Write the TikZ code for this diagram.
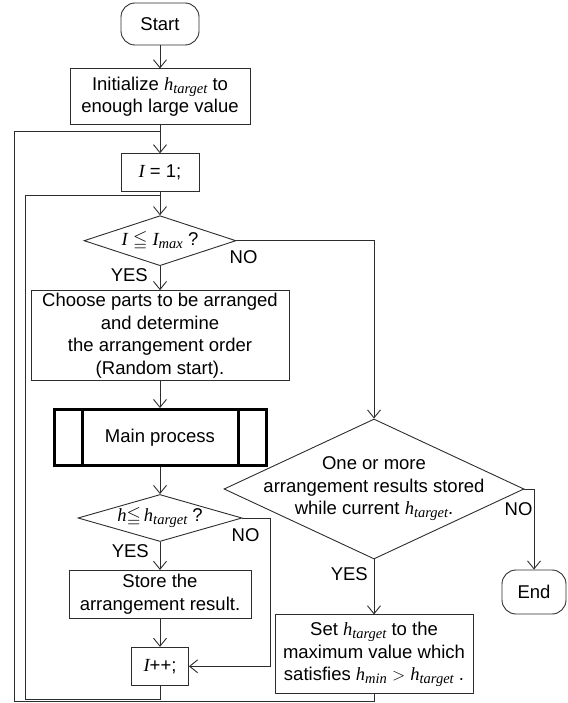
\documentclass[tikz,border=0pt]{standalone}
\usepackage{amsmath,amssymb}
\usepackage{fontspec}
\setmainfont{Liberation Sans}
\newfontfamily\varfont{Liberation Serif}
\newcommand{\var}[1]{{\varfont\itshape #1}}
\newcommand{\varsub}[2]{{\varfont\itshape #1\raisebox{-0.35ex}{\fontsize{14.5}{14.5}\selectfont #2}}}
\usetikzlibrary{arrows.meta,positioning,shapes.geometric,calc}
\definecolor{linegray}{RGB}{45,45,45}

\begin{document}
\begin{tikzpicture}[x=1pt, y=-1pt,
    font=\fontsize{18.5}{22.5}\selectfont,
    terminal/.style={draw=linegray, line width=0.9pt, rounded corners=14pt, minimum width=78pt, minimum height=42pt, inner sep=0pt},
    process/.style={draw=linegray, line width=0.9pt, align=center, inner sep=0pt},
    subproc/.style={draw=black, line width=3pt, minimum width=212pt, minimum height=56pt, inner sep=0pt,
        path picture={\draw[line width=3pt] ([xshift=28pt]path picture bounding box.north west) -- ([xshift=28pt]path picture bounding box.south west)
            ([xshift=-28pt]path picture bounding box.north east) -- ([xshift=-28pt]path picture bounding box.south east);}},
    decision/.style={draw=linegray, line width=0.9pt, diamond, inner sep=0pt},
    tag/.style={inner sep=0pt},
    arrow/.style={draw=linegray, line width=0.9pt, -{Straight Barb[length=8pt,width=13pt]}},
    backline/.style={draw=linegray, line width=0.9pt}
]
\useasboundingbox (0,0) rectangle (567,703);

\node[terminal] (start) at (160,24) {Start};
\node[process, minimum width=180pt, minimum height=56pt, below=23pt of start] (init) {Initialize \varsub{h}{target} to\\enough large value};
\node[process, minimum width=78pt, minimum height=38pt, below=28pt of init] (one) {\var{I} = 1;};
\node[decision, minimum width=152pt, minimum height=50pt, below=23pt of one, label={center:\var{I} $\leqq$ \varsub{I}{max} ?}] (cond1) {};
\node[process, minimum width=258pt, minimum height=90pt, below=24pt of cond1] (choose) {Choose parts to be arranged\\and determine\\the arrangement order\\(Random start).};
\node[subproc, below=27pt of choose] (main) {Main process};
\node[decision, minimum width=164pt, minimum height=47pt, below=27pt of main, label={center:\var{h}$\leqq$\,\varsub{h}{target} ?}] (cond2) {};
\node[process, minimum width=182pt, minimum height=48pt, below=28pt of cond2] (store) {Store the\\arrangement result.};
\node[process, minimum width=57pt, minimum height=38pt, below=28pt of store] (inc) {\var{I}++;};

\node[decision, minimum width=300pt, minimum height=140pt, label={[align=center]center:One or more\\arrangement results stored\\while current \varsub{h}{target}.}] (cond3) at (374,489) {};
\node[process, minimum width=198pt, minimum height=79pt, below=55pt of cond3] (set) {Set \varsub{h}{target} to the\\maximum value which\\satisfies \varsub{h}{min} $>$ \varsub{h}{target} .};
\node[terminal, minimum width=64pt, minimum height=44pt] (finish) at (534,592) {End};

\node[tag, anchor=north west] (no1) at ([xshift=-7pt,yshift=-10pt]cond1.east) {NO};
\node[tag, anchor=north east] (yes1) at ([xshift=-12pt,yshift=-2pt]cond1.south) {YES};
\node[tag, anchor=north west] (no2) at ([xshift=-11pt,yshift=-10pt]cond2.east) {NO};
\node[tag, anchor=north east] (yes2) at ([xshift=-11pt,yshift=-2pt]cond2.south) {YES};
\node[tag, anchor=north west] (no3) at ([xshift=-20pt,yshift=-13pt]cond3.east) {NO};
\node[tag, anchor=north east] (yes3) at ([xshift=-6pt,yshift=-8pt]cond3.south) {YES};

\coordinate (outerjoin) at ([yshift=-6pt]init.south);
\coordinate (innerjoin) at ([yshift=-3pt]one.south);

\draw[arrow] (start) -- (init);
\draw[arrow] (init) -- (one);
\draw[arrow] (one) -- (cond1);
\draw[arrow] (cond1) -- (choose);
\draw[arrow] (choose) -- (main);
\draw[arrow] (main) -- (cond2);
\draw[arrow] (cond2) -- (store);
\draw[arrow] (store) -- (inc);
\draw[arrow] (cond1.east) -| (cond3.north);
\draw[arrow] (cond2.east) -- ++(28,0) |- (inc.east);
\draw[arrow] (cond3.east) -| (finish.north);
\draw[arrow] (cond3) -- (set);
\draw[backline] (inc.south) -- ++(0,14) -| ([xshift=-135pt]innerjoin) -- (innerjoin);
\draw[backline] (set.south) -- ++(0,7) -| ([xshift=-146pt]outerjoin) -- (outerjoin);
\end{tikzpicture}
\end{document}
